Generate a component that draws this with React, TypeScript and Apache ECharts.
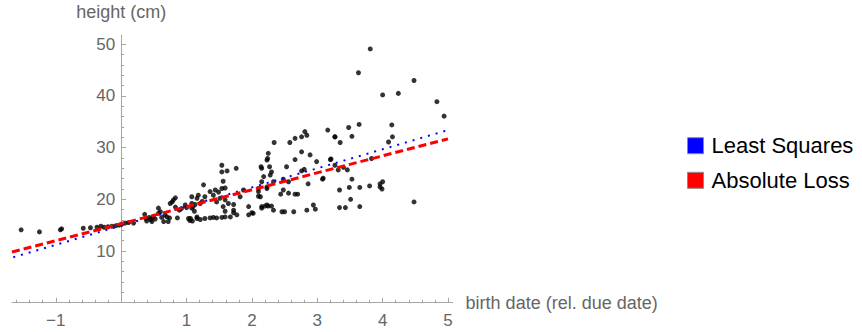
import React, { useEffect, useRef } from "react";
import * as echarts from "echarts";

// (birth date rel. due date, height cm)
const scatterPoints: [number, number][] = [
  [-1.53, 14.1], [-1.25, 13.7], [-0.93, 14.1], [-0.91, 14.3], [-0.58, 14.4], [-0.47, 14.5],
  [-0.37, 14.6], [-0.31, 14.8], [-0.26, 14.6], [-0.2, 14.7], [-0.14, 14.8], [-0.08, 14.9],
  [-0.03, 15.0], [0.01, 15.2], [0.06, 15.4], [0.11, 15.5], [0.19, 15.4],
  [0.36, 17.1], [0.38, 16.3], [0.39, 15.8], [0.43, 16.5], [0.45, 16.1], [0.47, 15.7],
  [0.49, 16.6], [0.52, 16.2], [0.57, 18.3], [0.57, 17.3], [0.6, 17.6], [0.62, 16.5],
  [0.65, 15.7], [0.67, 17.0], [0.7, 16.6], [0.72, 15.7], [0.74, 16.4], [0.75, 19.2],
  [0.78, 19.5], [0.8, 19.9], [0.83, 20.3], [0.83, 18.5], [0.86, 16.4], [0.89, 17.9],
  [0.92, 18.2], [0.98, 18.9], [1.0, 18.4], [1.03, 16.3], [1.05, 15.9], [1.08, 19.2],
  [1.08, 20.5], [1.1, 18.6], [1.12, 17.7], [1.16, 16.6], [1.18, 20.8],
  [1.06, 16.3], [1.09, 15.8], [1.16, 16.3], [1.21, 16.1], [1.28, 16.3], [1.36, 16.4],
  [1.41, 16.5], [1.46, 16.4], [1.54, 16.5], [1.59, 16.6], [1.67, 16.6], [1.72, 17.4],
  [1.77, 17.0], [1.95, 17.0], [2.0, 17.4], [2.02, 17.3],
  [1.08, 18.3], [1.13, 19.0], [1.16, 20.2], [1.21, 19.2], [1.24, 19.6], [1.28, 20.5],
  [1.26, 22.8], [1.36, 21.5], [1.41, 20.8], [1.44, 21.8], [1.49, 21.4], [1.54, 22.1],
  [1.59, 22.2], [1.56, 23.5], [1.46, 19.5], [1.51, 20.2], [1.56, 18.6], [1.59, 19.9],
  [1.59, 17.7], [1.64, 19.2], [1.72, 19.0], [1.72, 17.9], [1.82, 20.5], [1.87, 21.8],
  [1.95, 18.6], [1.54, 26.6], [1.54, 25.3], [1.62, 25.5], [1.76, 26.0],
  [2.1, 21.5], [2.13, 20.5], [2.15, 23.4], [2.18, 24.4], [2.15, 18.6], [2.23, 18.9],
  [2.23, 22.4], [2.15, 26.0], [2.23, 27.6],
  [2.81, 33.1], [2.84, 32.4], [2.76, 32.1], [2.66, 31.8], [2.58, 31.0], [2.34, 31.0],
  [3.16, 33.4], [3.27, 32.1], [2.25, 28.9], [2.24, 27.9], [2.76, 29.2], [2.89, 28.6],
  [2.66, 27.7], [2.99, 27.3], [2.14, 26.3], [2.27, 26.3], [2.53, 26.3], [2.76, 25.5],
  [2.3, 25.3], [2.28, 24.7], [3.09, 24.1], [2.33, 23.4], [2.48, 23.9], [2.56, 23.4],
  [2.1, 22.1], [2.23, 22.1], [2.48, 21.8], [2.56, 21.2], [2.66, 21.0], [2.1, 20.6],
  [2.15, 18.3], [2.2, 18.7], [2.25, 18.7], [2.3, 18.7], [2.33, 17.9], [2.46, 17.6],
  [2.5, 17.6], [2.64, 17.6], [2.84, 17.9], [2.94, 18.9], [2.97, 18.1],
  [2.86, 23.0], [3.08, 23.9], [2.8, 25.8], [3.21, 27.8], [2.44, 21.0], [2.7, 21.0],
  [3.64, 34.5], [3.48, 33.9], [4.14, 34.4], [3.27, 32.1], [3.53, 32.2], [3.35, 31.0],
  [4.15, 32.1], [4.09, 31.1], [3.2, 27.7], [3.83, 27.9], [3.27, 26.6], [3.32, 25.7],
  [3.4, 26.2], [3.46, 25.7], [3.53, 23.9], [3.34, 21.8], [3.49, 22.3], [3.65, 22.3],
  [3.8, 22.6], [3.96, 23.0], [4.0, 23.4], [3.96, 22.4], [3.99, 22.0], [3.51, 20.0],
  [3.34, 18.4], [3.43, 18.4], [3.65, 18.6],
  [3.81, 49.1], [3.63, 44.5], [4.48, 43.0], [4.0, 40.2], [4.24, 40.5], [4.83, 38.9],
  [4.94, 36.1], [4.48, 19.5],
];

const leastSquaresLine: [number, number][] = [[-1.65, 8.8], [5.0, 33.4]];
const absoluteLossLine: [number, number][] = [[-1.67, 9.8], [5.0, 31.7]];

const seriesNames = ["Least Squares", "Absolute Loss"];
const xTickLabels = [-1, 1, 2, 3, 4, 5];
const xMajorTicks = [-1, 0, 1, 2, 3, 4, 5];
const xMinorTicks = [
  -1.6, -1.4, -1.2, -0.8, -0.6, -0.4, -0.2, 0.2, 0.4, 0.6, 0.8, 1.2, 1.4, 1.6, 1.8,
  2.2, 2.4, 2.6, 2.8, 3.2, 3.4, 3.6, 3.8, 4.2, 4.4, 4.6, 4.8,
];
const yTickLabels = [10, 20, 30, 40, 50];
const yMinorTicks = [
  2, 4, 6, 8, 12, 14, 16, 18, 22, 24, 26, 28, 32, 34, 36, 38, 42, 44, 46, 48,
];

const X_MIN = -1.67;
const X_MAX = 5.07;
const Y_MIN = 0;
const Y_MAX = 51.8;

const GRID_LEFT = 12;
const GRID_RIGHT_EDGE = 452.6;

const FONT = "'Liberation Sans', Arial, sans-serif";
const AXIS_COLOR = "#a6a6a6";
const LABEL_COLOR = "#666666";

export default function App() {
  const ref = useRef<HTMLDivElement>(null);

  useEffect(() => {
    if (!ref.current) return;
    const chart = echarts.init(ref.current, undefined, { renderer: "svg" });

    // shift the y axis so it sits at x = 0 (axis crossing like the reference)
    const pxPerUnit = (GRID_RIGHT_EDGE - GRID_LEFT) / (X_MAX - X_MIN);
    const yAxisOffset = -(0 - X_MIN) * pxPerUnit;

    const baseX = {
      type: "value" as const,
      min: X_MIN,
      max: X_MAX,
      position: "bottom" as const,
      splitLine: { show: false },
    };
    const baseY = {
      type: "value" as const,
      min: Y_MIN,
      max: Y_MAX,
      position: "left" as const,
      offset: yAxisOffset,
      splitLine: { show: false },
    };

    chart.setOption({
      animation: false,
      backgroundColor: "#ffffff",
      textStyle: { fontFamily: FONT },
      grid: {
        left: GRID_LEFT,
        right: 862 - GRID_RIGHT_EDGE,
        top: 35,
        bottom: 29.3,
        containLabel: false,
        outerBoundsMode: "none",
      },
      xAxis: [
        {
          ...baseX,
          name: "birth date (rel. due date)",
          nameLocation: "end",
          nameGap: 13,
          nameTextStyle: { fontSize: 18, color: LABEL_COLOR, fontFamily: FONT, align: "left", verticalAlign: "middle" },
          axisLine: { show: true, onZero: false, lineStyle: { color: AXIS_COLOR, width: 1 } },
          axisTick: { show: true, inside: true, length: 5, customValues: xMajorTicks, lineStyle: { color: AXIS_COLOR } },
          axisLabel: { show: true, customValues: xTickLabels, margin: 9, fontSize: 17, color: LABEL_COLOR, fontFamily: FONT,
            formatter: (v: number) => (v < 0 ? "\u2212" + Math.abs(v) : String(v)) },
        },
        {
          ...baseX,
          axisLine: { show: false, onZero: false },
          axisTick: { show: true, inside: true, length: 3, customValues: xMinorTicks, lineStyle: { color: AXIS_COLOR } },
          axisLabel: { show: false },
        },
      ],
      yAxis: [
        {
          ...baseY,
          name: "height (cm)",
          nameLocation: "end",
          nameGap: 23,
          nameTextStyle: { fontSize: 18, color: LABEL_COLOR, fontFamily: FONT, align: "center", verticalAlign: "middle" },
          axisLine: { show: true, onZero: false, lineStyle: { color: AXIS_COLOR, width: 1 } },
          axisTick: { show: true, inside: true, length: 5, customValues: yTickLabels, lineStyle: { color: AXIS_COLOR } },
          axisLabel: { show: true, customValues: yTickLabels, margin: 6, fontSize: 17, color: LABEL_COLOR, fontFamily: FONT },
        },
        {
          ...baseY,
          axisLine: { show: false, onZero: false },
          axisTick: { show: true, inside: true, length: 3, customValues: yMinorTicks, lineStyle: { color: AXIS_COLOR } },
          axisLabel: { show: false },
        },
      ],
      legend: {
        orient: "vertical",
        left: 687,
        top: 134.7,
        padding: 0,
        itemWidth: 16,
        itemHeight: 16,
        itemGap: 12.6,
        icon: "rect",
        selectedMode: false,
        itemStyle: { borderColor: "#8c8c8c", borderWidth: 1 },
        textStyle: { fontSize: 22, lineHeight: 22, color: "#000000", fontFamily: FONT, padding: [0, 0, 0, 3] },
        data: seriesNames,
      },
      series: [
        {
          type: "scatter",
          xAxisIndex: 0,
          yAxisIndex: 0,
          data: scatterPoints,
          symbolSize: 5,
          itemStyle: { color: "#000000" },
          z: 2,
          silent: true,
        },
        {
          name: seriesNames[0],
          type: "line",
          xAxisIndex: 0,
          yAxisIndex: 0,
          data: leastSquaresLine,
          showSymbol: false,
          color: "#0000ff",
          lineStyle: { color: "#0000ff", width: 2, type: [2, 6] },
          z: 3,
          silent: true,
        },
        {
          name: seriesNames[1],
          type: "line",
          xAxisIndex: 0,
          yAxisIndex: 0,
          data: absoluteLossLine,
          showSymbol: false,
          color: "#ff0000",
          lineStyle: { color: "#ff0000", width: 3, type: [8, 4] },
          z: 4,
          silent: true,
        },
      ],
    });

    return () => chart.dispose();
  }, []);

  return (
    <div
      ref={ref}
      style={{ position: "absolute", left: 0, top: 0, width: 862, height: 332 }}
    />
  );
}
